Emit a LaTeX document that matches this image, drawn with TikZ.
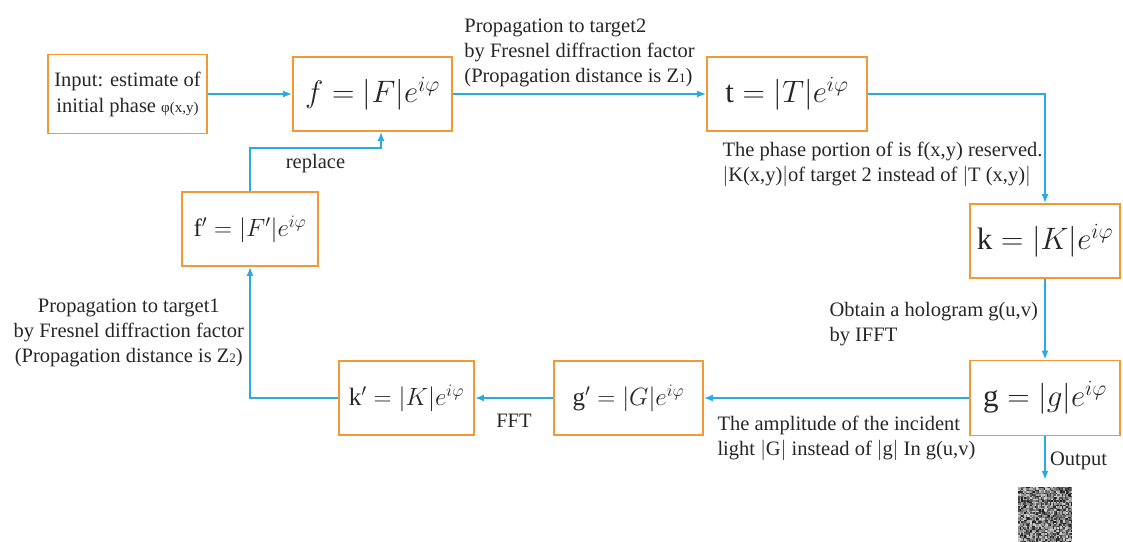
\RequirePackage{fix-cm}
\documentclass[tikz,border=0pt]{standalone}
\usepackage{fontspec}
\setmainfont{Liberation Serif}
\usepackage{amsmath}
\usetikzlibrary{arrows.meta,positioning}
\definecolor{orange}{RGB}{242,153,54}
\definecolor{blue}{RGB}{41,171,226}

\begin{document}
\begin{tikzpicture}[x=1pt, y=-1pt, font=\fontsize{20.5}{25}\selectfont, text=black!85,
  box/.style={draw=orange, line width=1.8pt, inner sep=0pt, minimum height=74pt, align=center},
  big/.style={box, font=\fontsize{31}{33}\selectfont},
  small/.style={box, font=\fontsize{25}{27}\selectfont},
  flow/.style={-{Latex[length=9pt,width=7pt]}, blue, line width=1.6pt},
  lbl/.style={align=left, text=black!85}]
\useasboundingbox (0,0) rectangle (1123,541);
\node[box, minimum width=159pt, minimum height=79pt, font=\fontsize{20.5}{26}\selectfont] (inp) at (127.5,94) {Input: estimate of\\initial phase {\fontsize{15}{15}\selectfont φ(x,y)}};
\node[big, minimum width=159pt] (f) at (372.5,94) {$f=|F|e^{i\varphi}$};
\node[big, minimum width=160pt] (t) at (787,94) {$\mathrm{t}=|T|e^{i\varphi}$};
\node[big, minimum width=150pt] (k) at (1045,241) {$\mathrm{k}=|K|e^{i\varphi}$};
\node[big, minimum width=150pt, minimum height=75pt] (g) at (1045,398) {$\mathrm{g}=|g|e^{i\varphi}$};
\node[small, minimum width=149pt] (gp) at (628.5,398) {$\mathrm{g}'=|G|e^{i\varphi}$};
\node[small, minimum width=135pt] (kp) at (406.5,398) {$\mathrm{k}'=|K|e^{i\varphi}$};
\node[small, minimum width=136pt] (fp) at (250,229) {$\mathrm{f}'=|F'|e^{i\varphi}$};
\node[inner sep=0pt, minimum width=54pt, minimum height=56pt] (holo) at (1045,513) {};
% hologram output
\pgfmathsetseed{42}
\foreach \i in {0,...,35}{
  \foreach \j in {0,...,37}{
    \pgfmathsetmacro{\gv}{15+75*rnd}
    \fill[black!\gv] (1018+1.5*\i,486.5+1.5*\j) rectangle ++(1.5,1.5);
  }
}
\draw[flow] (inp) -- (f);
\draw[flow] (f) -- (t) node[midway, above=3pt, lbl] (ztwo) {Propagation to target2\\by Fresnel diffraction factor\\(Propagation distance is Z{\fontsize{13}{13}\selectfont 1})};
\draw[flow] (t) -| (k);
\node[lbl, below right=7pt and 13pt of t.south west] (phase) {The phase portion of is f(x,y) reserved.\\$|$K(x,y)$|$of target 2 instead of $|$T (x,y)$|$};
\draw[flow] (k) -- (g);
\node[lbl, anchor=north west] (ifft) at (826,299) {Obtain a hologram g(u,v)\\by IFFT};
\draw[flow] (g) -- (gp);
\node[lbl, anchor=north west] (amp) at (714,413) {The amplitude of the incident\\light $|$G$|$ instead of $|$g$|$ In g(u,v)};
\draw[flow] (gp) -- (kp) node[midway, below=12pt, lbl] (fft) {FFT};
\draw[flow] (kp) -| (fp) node[pos=0.75, left=2pt, lbl, align=center] (zone) {Propagation to target1\\by Fresnel diffraction factor\\(Propagation distance is Z{\fontsize{13}{13}\selectfont 2})};
\coordinate (rep) at (381,148);
\draw[flow] (fp) |- (rep) node[pos=0.75, below=2pt, lbl] (replace) {replace} -- (rep |- f.south);
\draw[flow, shorten >=5pt] (g) -- (holo) node[midway, right=1pt, lbl] (out) {Output};
\end{tikzpicture}
\end{document}
